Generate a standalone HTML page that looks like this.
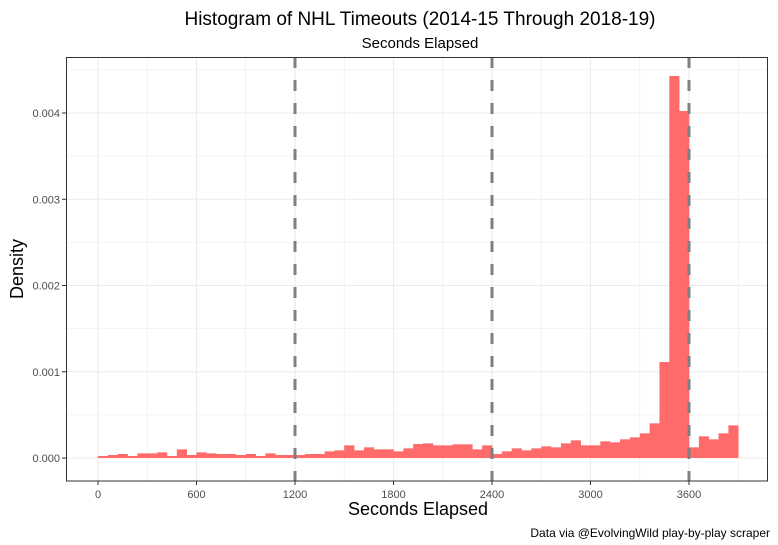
<!DOCTYPE html>
<html><head><meta charset="utf-8"><style>
body{margin:0;background:#fff;}
svg{display:block;font-family:"Liberation Sans",sans-serif;}
</style></head><body>
<svg id="s" width="778" height="545" xmlns="http://www.w3.org/2000/svg">
<rect width="778" height="545" fill="#fff"/>
<g id="grid"></g>
<g id="bars"></g>
<g stroke="#7f7f7f" stroke-width="3" stroke-dasharray="11,12">
<line x1="295" y1="57" x2="295" y2="481"/>
<line x1="492" y1="57" x2="492" y2="481"/>
<line x1="689" y1="57" x2="689" y2="481"/>
</g>
<rect x="66.5" y="57.5" width="701" height="423.5" fill="none" stroke="#333" stroke-width="1"/>
<g id="ticks"></g>
<text x="420" y="25" text-anchor="middle" font-size="19" fill="#000">Histogram of NHL Timeouts (2014-15 Through 2018-19)</text>
<text x="420" y="48" text-anchor="middle" font-size="15" fill="#000">Seconds Elapsed</text>
<text x="418" y="515" text-anchor="middle" font-size="18" fill="#000">Seconds Elapsed</text>
<text transform="translate(23,269) rotate(-90)" text-anchor="middle" font-size="18" fill="#000">Density</text>
<text x="770" y="537" text-anchor="end" font-size="12" fill="#000">Data via @EvolvingWild play-by-play scraper</text>
</svg>
<script>
var NS="http://www.w3.org/2000/svg";
function el(p,t,a){var e=document.createElementNS(NS,t);for(var k in a)e.setAttribute(k,a[k]);p.appendChild(e);return e;}
var X=function(s){return 98+s*591/3600;}, Y=function(d){return 458-d*86250;};
var g=document.getElementById('grid'),b=document.getElementById('bars'),t=document.getElementById('ticks');
for(var s=-300;s<=4200;s+=300){var x=X(s);if(x<67||x>767)continue;el(g,'line',{x1:x,x2:x,y1:57,y2:481,stroke:'#ebebeb','stroke-width':(s%600==0)?1.1:0.6});}
for(var d=0;d<=0.0045001;d+=0.0005){var y=Y(d);el(g,'line',{x1:66,x2:768,y1:y,y2:y,stroke:'#ebebeb','stroke-width':(Math.round(d*2000)%2==0)?1.1:0.6});}
for(var i=0;i<=6;i++){var x=X(i*600);el(t,'line',{x1:x,x2:x,y1:481,y2:485,stroke:'#333'});var tx=el(t,'text',{x:x,y:498,'text-anchor':'middle','font-size':11,fill:'#4d4d4d'});tx.textContent=i*600;}
for(var i=0;i<=4;i++){var y=Y(i*0.001);el(t,'line',{x1:62,x2:66,y1:y,y2:y,stroke:'#333'});var tx=el(t,'text',{x:60,y:y+4,'text-anchor':'end','font-size':11,fill:'#4d4d4d'});tx.textContent=(i*0.001).toFixed(3);}
var z1=[107,104,101,107,99,99,96,107,87,104,96,99,101,101,104,101,107,99,104,104,104,101,101,93,90,75,90,81,87,87,93,84];
var z2=[131,129,135,135,132,132,147,135,161,153,144,150,144,138,141,129,120,135,135,123,126,117,111,99,69];
var z3=[141,108,117,99,75];
var h=[];z1.forEach(function(v){h.push((113-v)/3);});z2.forEach(function(v){h.push((173-v)/3);});
h.push(96,382,347);z3.forEach(function(v){h.push((173-v)/3);});
var w=591/60;
h.forEach(function(v,k){el(b,'rect',{x:98+k*w,y:458-v,width:w+0.3,height:v,fill:'#ff6b6b'});});
</script>
</body></html>
